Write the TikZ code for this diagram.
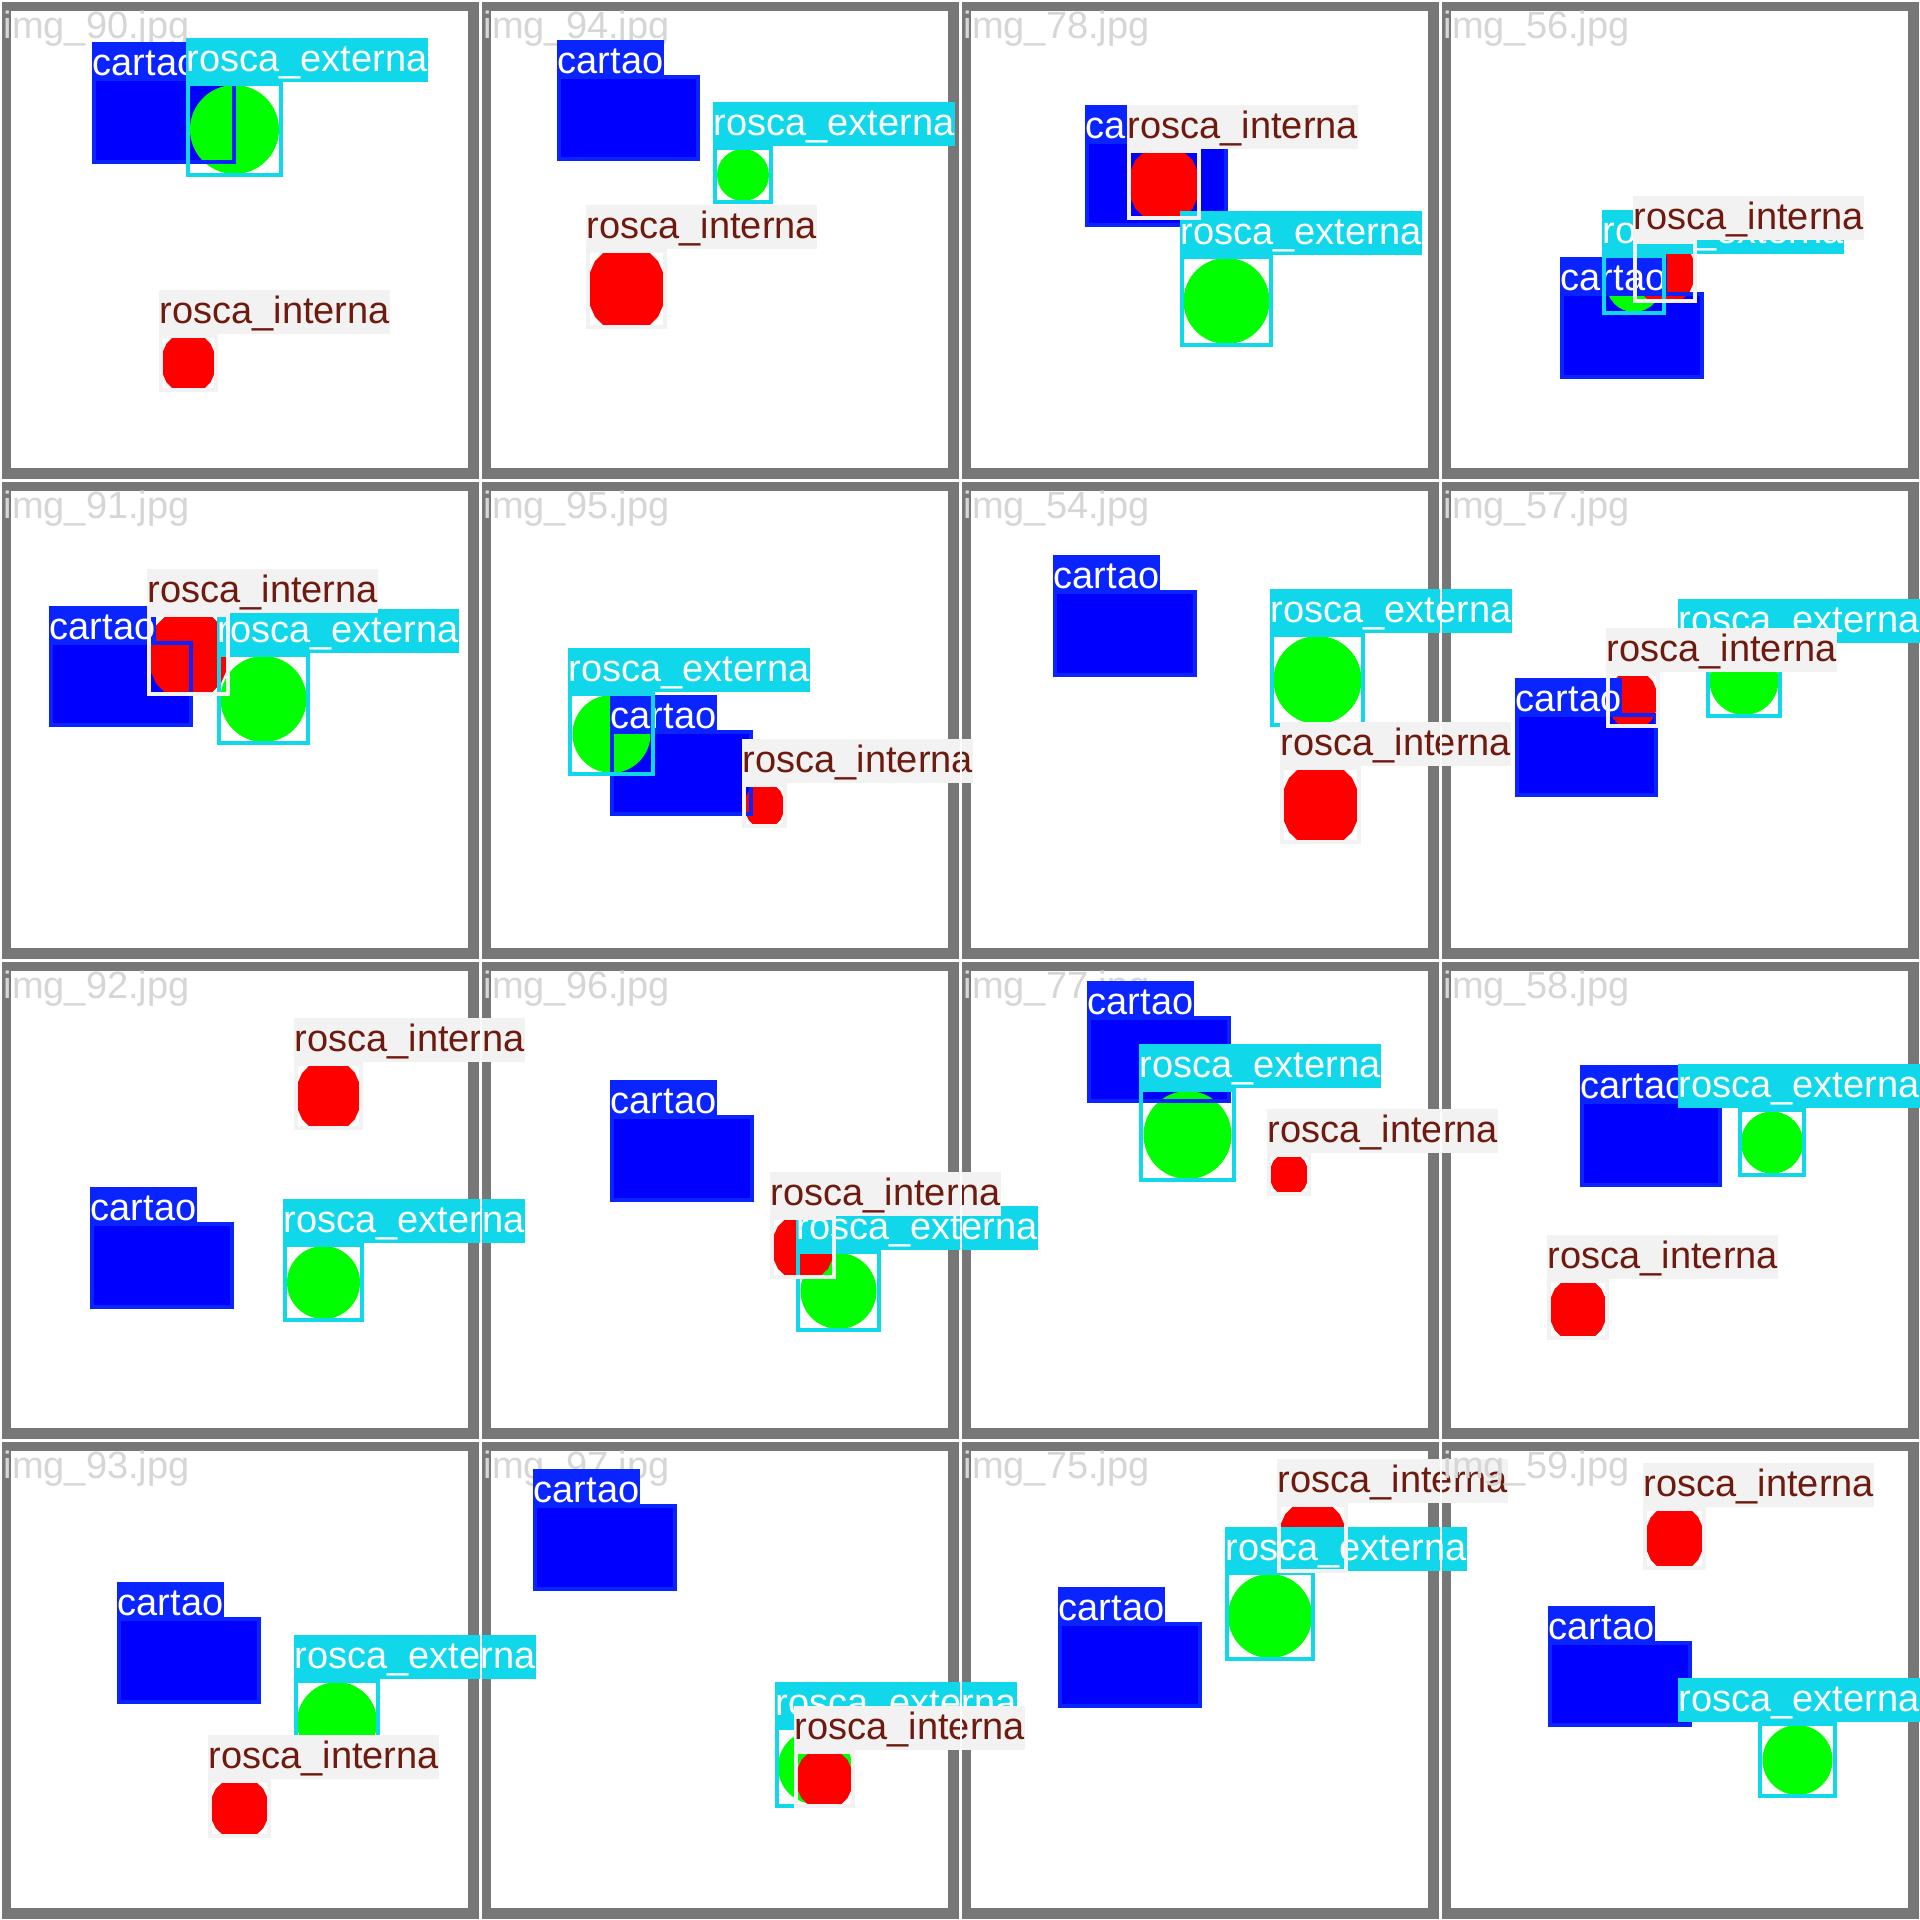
\documentclass[tikz,border=0pt]{standalone}
\usepackage{fontspec}
\newfontfamily\labfont{Liberation Sans}
\definecolor{framegray}{RGB}{119,119,119}
\definecolor{titlegray}{RGB}{214,214,214}
\definecolor{cblue}{RGB}{10,36,255}
\definecolor{objblue}{RGB}{0,0,255}
\definecolor{ccyan}{RGB}{16,216,234}
\definecolor{cgray}{RGB}{242,242,242}
\definecolor{textbrown}{RGB}{110,26,14}
\definecolor{objgreen}{RGB}{0,255,0}
\definecolor{objred}{RGB}{255,0,0}
\tikzset{
  lab/.style={anchor=south west, inner xsep=0.5pt, inner ysep=0pt, text height=33.5pt,
    font={\labfont\fontsize{38}{40}\selectfont}},
  ttlstyle/.style={anchor=base west, inner sep=0pt, text=titlegray,
    font={\labfont\fontsize{38}{40}\selectfont}},
  boxline/.style={line width=4pt}
}
% objects of the image
\newcommand\objB[4]{\fill[objblue] (#1,#2) rectangle (#3,#4);}
\newcommand\objG[4]{\fill[objgreen] ({(#1+#3)/2},{(#2+#4)/2}) circle[radius={min(#3-#1,#4-#2)/2-3}];}
\newcommand\objR[4]{%
  \pgfmathsetmacro\oa{#1+4}\pgfmathsetmacro\ob{#2+4}%
  \pgfmathsetmacro\ow{#3-#1-8}\pgfmathsetmacro\oh{#4-#2-8}%
  \fill[objred] (\oa+0.18*\ow,\ob) -- (\oa+0.82*\ow,\ob) -- (\oa+0.932*\ow,\ob+0.114*\oh)
    -- (\oa+\ow,\ob+0.27*\oh) -- (\oa+\ow,\ob+0.73*\oh) -- (\oa+0.932*\ow,\ob+0.886*\oh)
    -- (\oa+0.82*\ow,\ob+\oh) -- (\oa+0.18*\ow,\ob+\oh) -- (\oa+0.068*\ow,\ob+0.886*\oh)
    -- (\oa,\ob+0.73*\oh) -- (\oa,\ob+0.27*\oh) -- (\oa+0.068*\ow,\ob+0.114*\oh) -- cycle;}
% detections
\newcommand\ttl[2]{\node[ttlstyle] (#1) at (3.5,38) {#2};}
\newcommand\cartao[5]{%
  \draw[cblue, boxline] (#2+2,#3+2) rectangle (#4-2,#5-2);
  \node[lab, fill=cblue, text=white, text depth=1.5pt] (#1) at (#2,#3) {cartao};}
\newcommand\externa[5]{%
  \draw[ccyan, boxline] (#2+2,#3+2) rectangle (#4-2,#5-2);
  \node[lab, fill=ccyan, text=white, text depth=10.5pt] (#1) at (#2,#3) {rosca\_externa};}
\newcommand\externaR[5]{%
  \draw[ccyan, boxline] (#2+2,#3+2) rectangle (#4-2,#5-2);
  \node[lab, anchor=south east, fill=ccyan, text=white, text depth=10.5pt] (#1) at (480,#3) {rosca\_externa};}
\newcommand\interna[5]{%
  \draw[cgray, boxline] (#2+2,#3+2) rectangle (#4-2,#5-2);
  \node[lab, fill=cgray, text=textbrown, text depth=10.5pt] (#1) at (#2,#3) {rosca\_interna};}
\begin{document}
\begin{tikzpicture}[x=1pt,y=-1pt]
\useasboundingbox (0,0) rectangle (1920,1920);
\fill[white] (0,0) rectangle (1920,1920);
% frames
\foreach \c in {0,...,3}{\foreach \r in {0,...,3}{
  \fill[framegray] (480*\c+2,480*\r+2) rectangle (480*\c+479,480*\r+479);
  \fill[white] (480*\c+11,480*\r+11) rectangle (480*\c+468,480*\r+468);
}}
% ---------- row 1
\begin{scope}[shift={(0,0)}]
  \ttl{t1t}{img\_90.jpg}
  \objB{92}{77}{236}{164}\objG{186}{82}{283}{177}\objR{159}{334}{218}{392}
  \cartao{t1c}{92}{77}{236}{164}
  \externa{t1e}{186}{82}{283}{177}
  \interna{t1i}{159}{334}{218}{392}
\end{scope}
\begin{scope}[shift={(480,0)}]
  \ttl{t2t}{img\_94.jpg}
  \objB{77}{75}{220}{161}\objG{233}{146}{293}{204}\objR{106}{249}{187}{329}
  \cartao{t2c}{77}{75}{220}{161}
  \externa{t2e}{233}{146}{293}{204}
  \interna{t2i}{106}{249}{187}{329}
\end{scope}
\begin{scope}[shift={(960,0)}]
  \ttl{t3t}{img\_78.jpg}
  \objB{125}{140}{268}{227}\objG{220}{255}{313}{347}\objR{167}{149}{241}{220}
  \cartao{t3c}{125}{140}{268}{227}
  \externa{t3e}{220}{255}{313}{347}
  \interna{t3i}{167}{149}{241}{220}
\end{scope}
\begin{scope}[shift={(1440,0)}]
  \ttl{t4t}{img\_56.jpg}
  \objB{120}{292}{264}{379}\objG{162}{254}{226}{315}\objR{193}{240}{257}{303}
  \cartao{t4c}{120}{292}{264}{379}
  \externa{t4e}{162}{254}{226}{315}
  \interna{t4i}{193}{240}{257}{303}
\end{scope}
% ---------- row 2
\begin{scope}[shift={(0,480)}]
  \ttl{t5t}{img\_91.jpg}
  \objB{49}{161}{193}{247}\objG{217}{173}{310}{265}\objR{147}{133}{230}{216}
  \cartao{t5c}{49}{161}{193}{247}
  \externa{t5e}{217}{173}{310}{265}
  \interna{t5i}{147}{133}{230}{216}
\end{scope}
\begin{scope}[shift={(480,480)}]
  \ttl{t6t}{img\_95.jpg}
  \objB{130}{250}{273}{336}\objG{88}{212}{175}{296}\objR{262}{303}{307}{348}
  \cartao{t6c}{130}{250}{273}{336}
  \externa{t6e}{88}{212}{175}{296}
  \interna{t6i}{262}{303}{307}{348}
\end{scope}
\begin{scope}[shift={(960,480)}]
  \ttl{t7t}{img\_54.jpg}
  \objB{93}{110}{237}{197}\objG{310}{153}{405}{247}\objR{320}{286}{401}{364}
  \cartao{t7c}{93}{110}{237}{197}
  \externa{t7e}{310}{153}{405}{247}
  \interna{t7i}{320}{286}{401}{364}
\end{scope}
\begin{scope}[shift={(1440,480)}]
  \ttl{t8t}{img\_57.jpg}
  \objB{75}{233}{218}{317}\objG{266}{163}{342}{238}\objR{166}{192}{220}{248}
  \cartao{t8c}{75}{233}{218}{317}
  \externaR{t8e}{266}{163}{342}{238}
  \interna{t8i}{166}{192}{220}{248}
\end{scope}
% ---------- row 3
\begin{scope}[shift={(0,960)}]
  \ttl{t9t}{img\_92.jpg}
  \objB{90}{262}{234}{349}\objG{283}{283}{364}{362}\objR{294}{102}{363}{170}
  \cartao{t9c}{90}{262}{234}{349}
  \externa{t9e}{283}{283}{364}{362}
  \interna{t9i}{294}{102}{363}{170}
\end{scope}
\begin{scope}[shift={(480,960)}]
  \ttl{t10t}{img\_96.jpg}
  \objB{130}{155}{274}{242}\objG{316}{290}{401}{372}\objR{290}{256}{356}{319}
  \cartao{t10c}{130}{155}{274}{242}
  \externa{t10e}{316}{290}{401}{372}
  \interna{t10i}{290}{256}{356}{319}
\end{scope}
\begin{scope}[shift={(960,960)}]
  \ttl{t11t}{img\_77.jpg}
  \objB{127}{56}{271}{143}\objG{179}{128}{276}{222}\objR{307}{193}{351}{236}
  \cartao{t11c}{127}{56}{271}{143}
  \externa{t11e}{179}{128}{276}{222}
  \interna{t11i}{307}{193}{351}{236}
\end{scope}
\begin{scope}[shift={(1440,960)}]
  \ttl{t12t}{img\_58.jpg}
  \objB{140}{140}{282}{227}\objG{298}{148}{366}{217}\objR{107}{319}{169}{380}
  \cartao{t12c}{140}{140}{282}{227}
  \externaR{t12e}{298}{148}{366}{217}
  \interna{t12i}{107}{319}{169}{380}
\end{scope}
% ---------- row 4
\begin{scope}[shift={(0,1440)}]
  \ttl{t13t}{img\_93.jpg}
  \objB{117}{177}{261}{264}\objG{294}{239}{380}{325}\objR{208}{339}{271}{398}
  \cartao{t13c}{117}{177}{261}{264}
  \externa{t13e}{294}{239}{380}{325}
  \interna{t13i}{208}{339}{271}{398}
\end{scope}
\begin{scope}[shift={(480,1440)}]
  \ttl{t14t}{img\_97.jpg}
  \objB{53}{64}{197}{151}\objG{295}{286}{375}{368}\objR{314}{310}{375}{368}
  \cartao{t14c}{53}{64}{197}{151}
  \externa{t14e}{295}{286}{375}{368}
  \interna{t14i}{314}{310}{375}{368}
\end{scope}
\begin{scope}[shift={(960,1440)}]
  \ttl{t15t}{img\_75.jpg}
  \objB{98}{182}{242}{268}\objG{265}{131}{355}{221}\objR{317}{63}{388}{133}
  \cartao{t15c}{98}{182}{242}{268}
  \externa{t15e}{265}{131}{355}{221}
  \interna{t15i}{317}{63}{388}{133}
\end{scope}
\begin{scope}[shift={(1440,1440)}]
  \ttl{t16t}{img\_59.jpg}
  \objB{108}{201}{252}{287}\objG{318}{282}{397}{358}\objR{203}{67}{266}{130}
  \cartao{t16c}{108}{201}{252}{287}
  \externaR{t16e}{318}{282}{397}{358}
  \interna{t16i}{203}{67}{266}{130}
\end{scope}
% thin seams between columns
\foreach \c in {1,2,3}{\draw[white, line width=1.6pt] (480*\c+0.8,0) -- (480*\c+0.8,1920);}
\end{tikzpicture}
\end{document}
